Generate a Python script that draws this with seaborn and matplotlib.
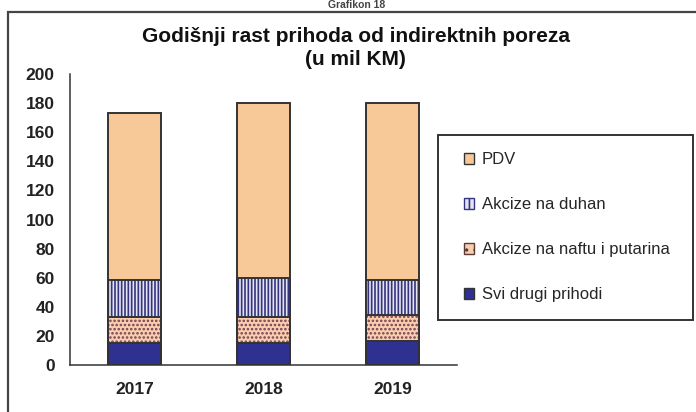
import matplotlib
matplotlib.use("Agg")
import matplotlib.pyplot as plt
from matplotlib.patches import Rectangle, Patch
import numpy as np
import seaborn as sns

years = ["2017", "2018", "2019"]
svi_drugi = [15.3, 15.3, 16.5]
nafta = [17.9, 17.9, 17.9]
duhan = [25.2, 26.4, 24.0]
pdv = [115.0, 120.7, 121.9]
labels = ["PDV", "Akcize na duhan", "Akcize na naftu i putarina", "Svi drugi prihodi"]
title = "Godišnji rast prihoda od indirektnih poreza\n(u mil KM)"

sns.set_style("white")
plt.rcParams["font.family"] = ["Liberation Sans", "DejaVu Sans"]
plt.rcParams["hatch.linewidth"] = 1.2

W, H = 696, 412
fig = plt.figure(figsize=(W / 100, H / 100), dpi=100)
ax = fig.add_axes([70 / W, 1 - 365 / H, (457 - 70) / W, (365 - 74) / H])

c1 = np.array(svi_drugi)
c2 = c1 + np.array(nafta)
c3 = c2 + np.array(duhan)
c4 = c3 + np.array(pdv)

edge = "#333333"
bw = 0.41
layers = [
    (c4, "#F8C998", None, edge),
    (c3, "#E4E4F2", "|||||", "#34347F"),
    (c2, "#F6D0AE", "....", "#7A3A52"),
    (c1, "#2E3190", None, edge),
]
for vals, fc, hatch, hc in layers:
    sns.barplot(x=years, y=vals, color=fc, hatch=hatch, edgecolor=hc,
                linewidth=0, width=bw, saturation=1, errorbar=None, ax=ax)
    sns.barplot(x=years, y=vals, fill=False, color=edge, linewidth=1.4,
                width=bw, saturation=1, errorbar=None, ax=ax)

ax.set_ylim(0, 200)
ax.set_yticks(range(0, 201, 20))
ax.set_xlim(-0.5, 2.5)
ax.set_xlabel("")
ax.set_ylabel("")
for s in ["top", "right"]:
    ax.spines[s].set_visible(False)
for s in ["left", "bottom"]:
    ax.spines[s].set_color(edge)
    ax.spines[s].set_linewidth(1.1)
ax.tick_params(axis="y", length=0, pad=11, labelsize=12.5, labelcolor="#222222")
ax.tick_params(axis="x", length=0, pad=12, labelsize=12.5, labelcolor="#222222")
for t in ax.get_xticklabels() + ax.get_yticklabels():
    t.set_fontweight("bold")

fig.text(0.511, 1 - 48 / H, title, ha="center", va="center", fontsize=15,
         fontweight="bold", color="#111111", linespacing=1.25)
fig.text(0.513, 1 - 5 / H, "Grafikon 18", ha="center", va="center", fontsize=7.5,
         fontweight="bold", color="#444444")

# outer frame
fig.add_artist(Rectangle((8 / W, -0.1), 1.2, 1.1 - 12 / H, transform=fig.transFigure,
                         fill=False, edgecolor="#444444", linewidth=1.6))
# legend box
fig.add_artist(Rectangle((438 / W, 1 - 320 / H), (693 - 438) / W, (320 - 135) / H,
                         transform=fig.transFigure, fill=False, edgecolor="#333333",
                         linewidth=1.4))

handles = [
    Patch(facecolor="#F8C998", edgecolor=edge),
    Patch(facecolor="#E4E4F2", edgecolor="#34347F", hatch="|||"),
    Patch(facecolor="#F6D0AE", edgecolor="#5A3A32", hatch=".."),
    Patch(facecolor="#2E3190", edgecolor=edge),
]
fig.legend(handles, labels, loc="upper left", bbox_to_anchor=(451 / W, 1 - 139 / H),
           frameon=False, fontsize=12, handlelength=0.6, handleheight=0.6,
           handletextpad=0.45, labelspacing=1.8, borderpad=0.3)

fig.savefig("out.png", dpi=100)
